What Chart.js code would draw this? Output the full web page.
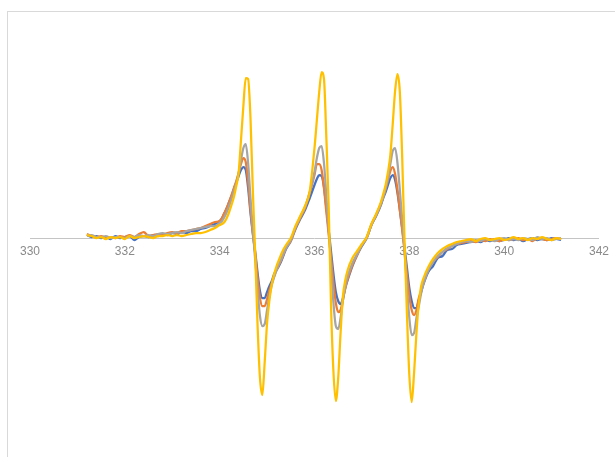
<!DOCTYPE html>
<html>
<head>
<meta charset="utf-8">
<script src="https://cdn.jsdelivr.net/npm/chart.js@4"></script>
<style>
html,body{margin:0;padding:0;background:#fff;overflow:hidden;}
#frame{position:absolute;left:7px;top:11px;width:700px;height:600px;border:1px solid #d9d9d9;box-sizing:border-box;}
#c{position:absolute;left:0;top:0;}
</style>
</head>
<body>
<div id="frame"></div>
<canvas id="c" width="615" height="457"></canvas>
<script>
// Magnetic field (x values)
const fields = [
331.2,331.3,331.4,331.5,331.6,331.7,331.8,331.9,332.0,332.1,332.2,332.3,332.4,332.5,332.6,332.7,332.8,332.9,333.0,333.1,333.2,333.3,333.4,333.5,333.6,333.7,333.8,333.9,
334.00,334.05,334.10,334.15,334.20,334.25,334.30,334.35,334.40,334.45,334.50,334.55,334.60,334.65,334.70,334.75,334.80,334.85,334.90,334.95,335.00,335.05,335.10,335.15,335.20,335.25,335.30,335.35,335.40,
335.5,335.6,335.7,335.8,335.9,
336.00,336.05,336.10,336.15,336.20,336.25,336.30,336.35,336.40,336.45,336.50,336.55,336.60,336.65,336.70,
336.8,336.9,337.0,337.1,337.2,337.3,337.4,
337.45,337.50,337.55,337.60,337.65,337.70,337.75,337.80,337.85,337.90,337.95,338.00,338.05,338.10,338.15,338.20,338.25,338.30,
338.4,338.5,338.6,338.7,338.8,338.9,339.0,339.1,339.2,339.3,339.4,339.5,339.6,339.7,339.8,339.9,340.0,340.1,340.2,340.3,340.4,340.5,340.6,340.7,340.8,340.9,341.0,341.1,341.2
];

const blueSeries = [
3,1,2,0,1,-1,2,0,1,2,-2,1,2,1,3,2,4,3,5,4,6,5,7,7,9,10,12,14,
17,20,25,30,36,42,49,55,62,68,71,68,50,25,4,-14,-35,-53,-60,-60,-54,-48,-43,-36,-32,-28,-23,-17,-11,
-3,9,19,28,40,
53,59,63,62,51,30,8,-14,-36,-54,-63,-66,-60,-50,-42,
-28,-17,-8,0,13,22,33,
40,46,53,60,63,58,45,28,10,-10,-30,-50,-63,-70,-70,-62,-54,-46,
-34,-28,-20,-18,-12,-11,-7,-6,-5,-4,-3,-4,-2,-3,-1,-3,-2,0,-2,-1,-3,-1,0,-2,-1,-2,0,-1,-2
];

const orangeSeries = [
4,2,1,2,0,1,0,2,1,3,1,4,6,2,3,4,3,5,6,5,7,7,8,9,10,12,14,16,
17,20,25,30,36,43,50,57,65,74,80,76,56,28,5,-16,-40,-60,-68,-68,-61,-52,-45,-38,-32,-27,-22,-16,-10,
-3,10,20,30,45,
63,74,74,68,50,26,3,-20,-45,-65,-74,-72,-62,-50,-41,
-27,-17,-7,0,13,23,34,
41,49,58,67,71,64,48,28,8,-14,-36,-58,-72,-77,-72,-60,-53,-45,
-32,-24,-19,-14,-11,-8,-6,-5,-4,-3,-4,-2,-3,-1,-2,-3,-1,-2,-1,0,-2,-1,-3,0,-1,-2,-1,0,-1
];

const graySeries = [
2,3,1,1,2,0,1,1,0,2,1,3,2,3,2,4,5,4,5,6,5,7,8,9,10,11,12,12,
15,17,21,26,32,39,47,55,65,78,90,94,75,40,8,-22,-52,-78,-88,-86,-72,-58,-47,-39,-32,-26,-21,-15,-10,
-2,11,21,31,46,
66,80,90,92,75,42,8,-28,-65,-88,-91,-80,-62,-48,-38,
-25,-16,-7,0,13,23,34,
41,50,60,74,87,90,75,48,18,-14,-48,-80,-97,-95,-80,-68,-55,-45,
-32,-24,-18,-14,-10,-8,-6,-4,-3,-4,-2,-3,-1,-2,-3,-1,0,-2,-1,-2,0,-1,-2,1,-1,0,-2,-1,0
];

const yellowSeries = [
3,2,0,1,-1,1,0,1,-1,2,0,1,2,1,0,2,2,3,2,3,2,3,4,5,5,6,8,10,
13,14,16,20,26,33,41,52,65,98,132,160,159,120,47,-17,-88,-140,-157,-124,-85,-62,-46,-36,-28,-22,-16,-11,-7,
0,12,22,32,47,
90,118,146,166,159,100,30,-70,-134,-163,-140,-95,-58,-42,-32,
-20,-13,-6,1,14,24,36,
44,53,66,83,114,147,164,146,80,-5,-76,-137,-164,-135,-95,-65,-48,-40,
-29,-21,-15,-11,-8,-6,-4,-3,-2,-1,-3,-1,0,-2,-1,0,-2,-1,1,-1,0,-2,0,-1,1,-1,-2,0,-1
];

const xTicks = [330,332,334,336,338,340,342];
const seriesNames = ['Series1','Series2','Series3','Series4'];
const seriesColors = ['#4472C4','#ED7D31','#A5A5A5','#FFC000'];

const allSeries = [blueSeries, orangeSeries, graySeries, yellowSeries];
const datasets = allSeries.map((vals, k) => ({
  label: seriesNames[k],
  data: fields.map((f, i) => ({x: f, y: vals[i]})),
  borderColor: seriesColors[k],
  backgroundColor: seriesColors[k],
  borderWidth: 2.25,
  pointRadius: 0,
  fill: false,
  cubicInterpolationMode: 'monotone',
  order: 3 - k
}));

new Chart(document.getElementById('c'), {
  type: 'line',
  data: {datasets},
  options: {
    responsive: false,
    animation: false,
    devicePixelRatio: 1,
    layout: {padding: {left: 30, right: 13, top: 28, bottom: 9}},
    plugins: {legend: {display: false}, tooltip: {enabled: false}, title: {display: false}},
    scales: {
      x: {
        type: 'linear',
        position: {y: 0},
        min: 330,
        max: 342,
        afterBuildTicks: (s) => { s.ticks = xTicks.map(v => ({value: v})); },
        grid: {display: false, drawTicks: false},
        border: {display: true, color: '#c4c4c4', width: 1},
        ticks: {
          color: '#8a8a8a',
          padding: 6,
          maxRotation: 0,
          font: {family: 'Liberation Sans, Arial, sans-serif', size: 12}
        }
      },
      y: {
        type: 'linear',
        display: false,
        min: -210,
        max: 210
      }
    }
  }
});
</script>
</body>
</html>
